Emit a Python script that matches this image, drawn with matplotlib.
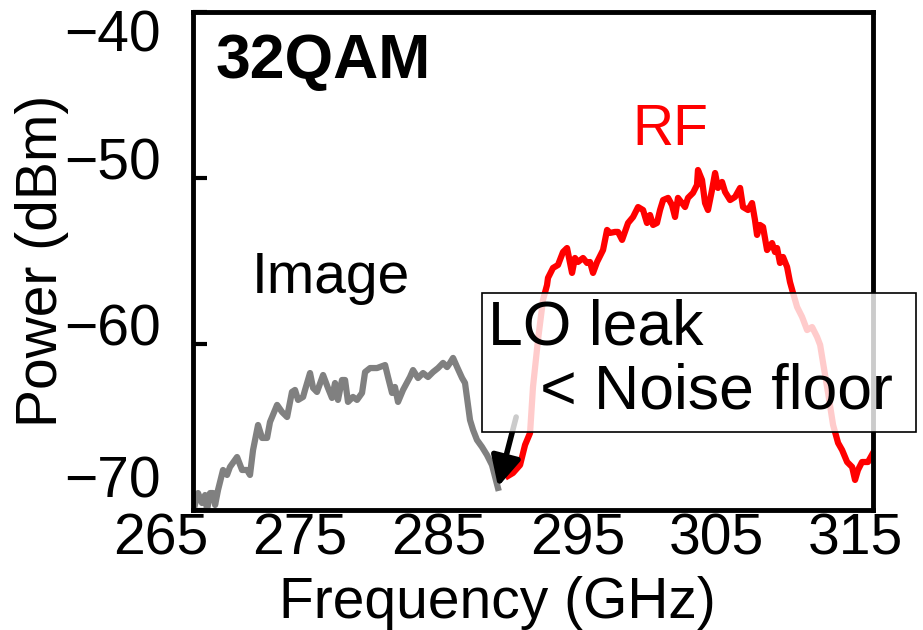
import matplotlib
matplotlib.use("Agg")
import matplotlib.pyplot as plt
from matplotlib.patches import Rectangle

plt.rcParams['font.family'] = ['Liberation Sans', 'DejaVu Sans']

# image sideband (below the LO), GHz / dBm
img_f = [267.35, 267.71, 268.0, 268.22, 268.36, 268.58, 268.79, 268.94, 269.15, 269.51,
         269.8, 270.01, 270.52, 270.88, 271.24, 271.45, 271.67, 272.03, 272.32, 272.68,
         272.89, 273.4, 273.76, 274.12, 274.47, 274.69, 274.91, 275.27, 275.41, 275.77,
         275.99, 276.27, 276.71, 277.06, 277.35, 277.57, 277.78, 278.07, 278.29, 278.5,
         278.86, 279.15, 279.51, 279.73, 280.09, 280.59, 281.17, 281.38, 281.67, 281.88,
         282.1, 282.46, 282.96, 283.18, 283.54, 283.9, 284.26, 284.62, 284.98, 285.34,
         285.63, 285.84, 286.06, 286.35, 286.71, 286.92, 287.28, 287.5, 287.78, 288.14,
         288.5, 288.86, 289.29]
img_p = [-70.12, -68.98, -69.58, -69.1, -70.0, -68.98, -68.98, -69.7, -68.8, -67.59,
         -67.89, -67.41, -66.81, -67.59, -67.59, -67.89, -66.39, -64.88, -65.66, -65.66,
         -64.7, -63.67, -64.1, -64.4, -62.89, -62.77, -63.37, -63.19, -62.77, -61.75,
         -62.65, -62.89, -61.87, -62.65, -63.25, -62.35, -63.37, -62.17, -62.17, -63.49,
         -63.19, -63.37, -62.95, -61.69, -61.45, -61.45, -61.27, -61.99, -62.95, -62.59,
         -63.49, -62.77, -61.99, -61.57, -62.05, -61.75, -61.99, -61.69, -61.45, -61.14,
         -61.39, -61.14, -60.84, -61.39, -62.05, -62.35, -64.58, -65.18, -65.78, -66.2,
         -66.69, -67.29, -68.67]

# RF sideband (above the LO)
rf_f = [290.01, 290.37, 290.88, 291.24, 291.6, 291.81, 292.17, 292.53, 292.82, 292.89,
        293.25, 293.61, 293.97, 294.26, 294.62, 294.83, 295.05, 295.41, 295.7, 295.91,
        296.13, 296.42, 296.85, 297.14, 297.35, 297.71, 297.93, 298.22, 298.65, 299.01,
        299.37, 299.73, 300.01, 300.23, 300.45, 300.73, 300.95, 301.17, 301.53, 301.81,
        302.03, 302.24, 302.53, 302.75, 302.96, 303.32, 303.61, 303.68, 303.97, 304.19,
        304.4, 304.69, 304.91, 305.12, 305.41, 305.63, 305.99, 306.35, 306.71, 306.92,
        307.28, 307.57, 307.78, 307.93, 308.14, 308.36, 308.65, 309.01, 309.22, 309.37,
        309.58, 309.8, 310.09, 310.3, 310.52, 310.81, 311.17, 311.53, 311.89, 312.25,
        312.47, 312.68, 313.04, 313.4, 313.76, 314.05, 314.41, 314.77, 314.98, 315.19,
        315.48, 315.91, 316.27]
rf_p = [-67.95, -67.77, -67.29, -66.08, -65.36, -62.59, -59.76, -57.35, -56.45, -56.02,
        -55.42, -55.24, -54.46, -54.22, -55.72, -54.82, -55.06, -54.82, -55.12, -55.06,
        -55.72, -55.06, -54.34, -53.13, -53.31, -53.25, -53.25, -53.73, -52.71, -52.35,
        -51.75, -51.93, -52.71, -52.23, -52.83, -52.71, -51.93, -51.33, -51.2, -51.63,
        -52.35, -51.2, -51.51, -51.75, -51.2, -50.9, -50.42, -49.52, -50.12, -51.51,
        -51.93, -50.72, -49.7, -50.6, -50.24, -50.84, -51.33, -51.14, -50.6, -51.75,
        -51.93, -51.51, -52.53, -53.43, -52.83, -52.95, -54.34, -53.92, -54.46, -54.22,
        -55.12, -54.76, -55.36, -56.27, -56.93, -57.77, -58.37, -59.16, -58.98, -59.58,
        -60.06, -61.14, -62.95, -64.88, -65.96, -66.39, -67.11, -67.41, -68.19, -67.59,
        -67.11, -67.11, -66.57]

x_ticks = [265, 275, 285, 295, 305, 315]
y_ticks = [-70, -60, -50, -40]

fig = plt.figure(figsize=(9.23, 6.3), dpi=100)
ax = fig.add_axes([0.2091, 0.1905, 0.7367, 0.7905])

ax.plot(img_f, img_p, color='#808080', lw=4.5, zorder=2, solid_joinstyle='round')
ax.plot(rf_f, rf_p, color='#ff0000', lw=4.5, zorder=2, solid_joinstyle='round')

ax.set_xlim(267.35, 316.27)
ax.set_ylim(-70, -40)

for s in ax.spines.values():
    s.set_linewidth(3.5)

ax.set_xticks([])
ax.set_yticks(y_ticks)
ax.tick_params(axis='y', direction='in', length=10, width=3, labelleft=False)

# tick labels
for v in x_ticks:
    ax.annotate(str(v), xy=(v, 0), xycoords=('data', 'axes fraction'),
                xytext=(0, -2), textcoords='offset points',
                ha='center', va='top', fontsize=41, annotation_clip=False)

for v in y_ticks:
    if v == y_ticks[0]:
        va, dy = 'bottom', 0
    elif v == y_ticks[-1]:
        va, dy = 'top', 2
    else:
        va, dy = 'center', 10
    ax.annotate(str(v).replace('-', '\u2212'), xy=(0, v), xycoords=('axes fraction', 'data'),
                xytext=(-23, dy), textcoords='offset points',
                ha='right', va=va, fontsize=41, annotation_clip=False)

ax.set_xlabel('Frequency (GHz)', fontsize=41)
ax.xaxis.set_label_coords(0.447, -0.132)
ax.set_ylabel('Power (dBm)', fontsize=41)
ax.yaxis.set_label_coords(-0.182, 0.5)

ax.text(0.033, 0.8675, '32QAM', transform=ax.transAxes, fontsize=45,
        fontweight='bold', ha='left', va='baseline')
ax.text(301.67, -48.0, 'RF', color='#ff0000', fontsize=41, ha='center', va='baseline')
ax.text(271.6, -56.93, 'Image', color='black', fontsize=41, ha='left', va='baseline')

# arrow pointing at the LO position
ax.annotate('', xy=(289.3, -68.6), xytext=(290.6, -64.4),
            arrowprops=dict(arrowstyle='-|>', color='black', lw=4,
                            mutation_scale=45, shrinkA=0, shrinkB=0),
            zorder=4)

box = Rectangle((0.425, 0.1566), 0.6382, 0.2791, transform=ax.transAxes,
                facecolor=(1, 1, 1, 0.8), edgecolor='black', lw=1.2,
                clip_on=False, zorder=5)
ax.add_patch(box)
ax.text(288.58, -63.86, 'LO leak\n   < Noise floor', fontsize=45, ha='left',
        va='baseline', linespacing=1.09, zorder=6)

fig.savefig('out.png', dpi=100)
